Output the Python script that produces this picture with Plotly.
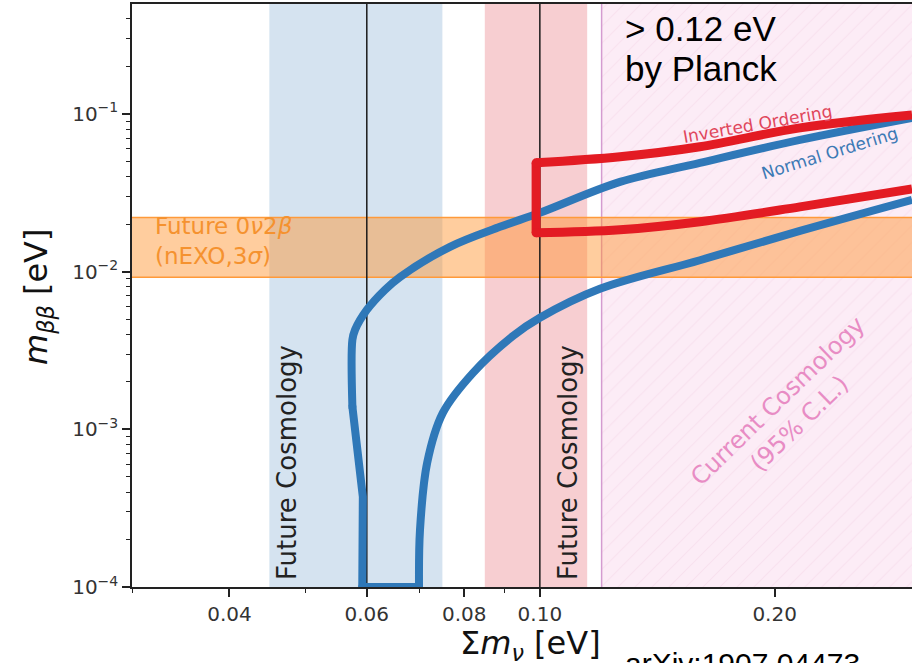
import math
import plotly.graph_objects as go

# ---- data (sum of neutrino masses [eV] vs effective Majorana mass [eV]) ----
# Normal ordering: lower boundary (right to left)
no_lower_x = [0.3000, 0.2155, 0.1604, 0.1194, 0.1000, 0.0924, 0.0821, 0.0751, 0.0717, 0.0702, 0.0700]
no_lower_y = [0.0285, 0.01811, 0.0118, 0.00777, 0.00509, 0.00391, 0.00228, 0.00127, 0.000612, 0.000230, 0.0001]
# bottom edge and straight part of the left edge
no_left_x = [0.0700, 0.0592, 0.0593, 0.0575]
no_left_y = [0.0001, 0.0001, 0.000373, 0.00139]
# rest of the left edge bending into the upper boundary
no_upper_x = [0.0575, 0.0575, 0.05795, 0.0600, 0.0633, 0.0662, 0.0767, 0.0889, 0.1000, 0.1267, 0.1604, 0.2155, 0.3000]
no_upper_y = [0.00139, 0.00369, 0.00427, 0.00571, 0.00766, 0.00925, 0.01435, 0.0192, 0.02356, 0.0370, 0.0489, 0.0684, 0.0943]

# Inverted ordering: upper boundary (right to left), left edge, lower boundary
io_upper_x = [0.3000, 0.2155, 0.1604, 0.1267, 0.0989]
io_upper_y = [0.0985, 0.0815, 0.0618, 0.0534, 0.0489]
io_lower_x = [0.0989, 0.1267, 0.1604, 0.2155, 0.3000]
io_lower_y = [0.0176, 0.0184, 0.0207, 0.0257, 0.0334]

# Future cosmology bands (centre +- 0.015 eV), current bound, nEXO band
future_centers = [0.06, 0.10]
future_halfwidth = 0.015
planck_bound = 0.12
nexo_band = [0.0092, 0.022]

x_tickvals = [0.04, 0.06, 0.08, 0.10, 0.20]
x_ticktext = ["0.04", "0.06", "0.08", "0.10", "0.20"]
x_minor = [0.03, 0.05, 0.07, 0.09, 0.3]
y_tickvals = [1e-4, 1e-3, 1e-2, 1e-1]
y_ticktext = ["10<sup>\u22124</sup>", "10<sup>\u22123</sup>", "10<sup>\u22122</sup>", "10<sup>\u22121</sup>"]
y_minor = [m * 10.0 ** e for e in (-4, -3, -2, -1) for m in range(2, 10)]

X_RANGE = (0.03, 0.30)
Y_RANGE = (1e-4, 0.497)
LO, HI = 1e-6, 10.0   # spans reaching past the visible y-range

W, H = 912, 663
ML, MR, MT, MB = 132, 0, 4, 76
PW, PH = W - ML - MR, H - MT - MB


def px(xp):
    return (xp - ML) / PW


def py(yp):
    return (H - MB - yp) / PH


fig = go.Figure()


def add(**kw):
    kw.setdefault("hoverinfo", "skip")
    kw.setdefault("showlegend", False)
    fig.add_trace(go.Scatter(**kw))


band_fill = ["#d5e3f0", "#f7ced1"]
for c, col in zip(future_centers, band_fill):
    a, b = c - future_halfwidth, c + future_halfwidth
    add(x=[a, b, b, a, a], y=[LO, LO, HI, HI, LO], mode="lines",
        fill="toself", fillcolor=col, line=dict(width=0))

# current cosmology exclusion (hatched)
add(x=[planck_bound, 1.0, 1.0, planck_bound, planck_bound], y=[LO, LO, HI, HI, LO],
    mode="lines", fill="toself", fillcolor="#fcecf6",
    fillpattern=dict(shape="/", bgcolor="#fcecf6", fgcolor="#f5d6e8", size=12, solidity=0.1),
    line=dict(width=0))
add(x=[planck_bound, planck_bound], y=[LO, HI], mode="lines", line=dict(color="#d49bd0", width=1.5))

# nEXO sensitivity band
n0, n1 = nexo_band
add(x=[1e-3, 1.0, 1.0, 1e-3, 1e-3], y=[n0, n0, n1, n1, n0], mode="lines",
    fill="toself", fillcolor="rgba(255,145,40,0.45)", line=dict(color="#ff9a3a", width=1.5))

# vertical reference lines
for c in future_centers:
    add(x=[c, c], y=[LO, HI], mode="lines", line=dict(color="#1a1a1a", width=1.5))

# ordering contours
NO_COL, IO_COL = "#2f78b8", "#e31b23"
add(x=no_lower_x, y=no_lower_y, mode="lines", line=dict(color=NO_COL, width=8, shape="spline", smoothing=1))
add(x=no_left_x, y=no_left_y, mode="lines", line=dict(color=NO_COL, width=8))
add(x=no_upper_x, y=no_upper_y, mode="lines", line=dict(color=NO_COL, width=8, shape="spline", smoothing=1))
add(x=[no_left_x[0], no_left_x[1], no_left_x[-1]], y=[no_left_y[0], no_left_y[1], no_left_y[-1]],
    mode="markers", marker=dict(color=NO_COL, size=8, line=dict(width=0)))

add(x=io_upper_x, y=io_upper_y, mode="lines", line=dict(color=IO_COL, width=9, shape="spline", smoothing=1))
add(x=[io_upper_x[-1], io_lower_x[0]], y=[io_upper_y[-1], io_lower_y[0]], mode="lines",
    line=dict(color=IO_COL, width=9))
add(x=io_lower_x, y=io_lower_y, mode="lines", line=dict(color=IO_COL, width=9, shape="spline", smoothing=1))
add(x=[io_upper_x[-1], io_lower_x[0]], y=[io_upper_y[-1], io_lower_y[0]], mode="markers",
    marker=dict(color=IO_COL, size=9, line=dict(width=0)))

TXT = "DejaVu Sans"
ARIAL = "Liberation Sans, Arial"

ann = [
    dict(text="Future Cosmology", x=px(287), y=py(463), textangle=-90,
         font=dict(size=26, color="#222222", family=TXT)),
    dict(text="Future Cosmology", x=px(568), y=py(463), textangle=-90,
         font=dict(size=26, color="#222222", family=TXT)),
    dict(text="Future 0<i>\u03bd</i>2<i>\u03b2</i><br>(nEXO,3<i>\u03c3</i>)", x=px(153), y=py(241),
         xanchor="left", align="left", font=dict(size=23, color="#f5922f", family=TXT)),
    dict(text="Inverted Ordering", x=px(757), y=py(124), textangle=-10,
         font=dict(size=17, color="#e0465c", family=TXT)),
    dict(text="Normal Ordering", x=px(830), y=py(153), textangle=-17,
         font=dict(size=17, color="#3d7ab5", family=TXT)),
    dict(text="Current Cosmology<br>(95% C.L.)", x=px(788), y=py(412), textangle=-44,
         font=dict(size=24, color="#e88cc4", family=TXT)),
    dict(text="> 0.12 eV", x=px(623), y=py(29), xanchor="left",
         font=dict(size=35, color="#000000", family=ARIAL)),
    dict(text="by Planck", x=px(623), y=py(69), xanchor="left",
         font=dict(size=35, color="#000000", family=ARIAL)),
    dict(text="arXiv:1907.04473", x=px(623), y=py(645), xanchor="left", yanchor="top",
         font=dict(size=30, color="#000000", family=ARIAL)),
    dict(text="<i>m</i><sub><i>\u03b2\u03b2</i></sub> [eV]", x=px(38), y=py(297), textangle=-90,
         font=dict(size=32, color="#111111", family=TXT)),
    dict(text="\u03a3<i>m</i><sub><i>\u03bd</i></sub> [eV]", x=px(530), y=py(645),
         font=dict(size=32, color="#111111", family=TXT)),
]
for a in ann:
    a.setdefault("xanchor", "center")
    a.setdefault("yanchor", "middle")
    fig.add_annotation(xref="paper", yref="paper", showarrow=False, **a)

axis_common = dict(type="log", showgrid=False, zeroline=False, showline=True,
                   linecolor="#222222", linewidth=1.5, ticks="outside", ticklen=8,
                   tickwidth=1.5, tickcolor="#222222", automargin=False,
                   tickfont=dict(family=TXT, size=20, color="#333333"))

fig.update_xaxes(range=[math.log10(X_RANGE[0]), math.log10(X_RANGE[1])], mirror=True,
                 tickmode="array", tickvals=x_tickvals, ticktext=x_ticktext,
                 minor=dict(tickmode="array", tickvals=x_minor, ticks="outside", ticklen=4,
                            tickwidth=1.2, tickcolor="#222222", showgrid=False),
                 **axis_common)
fig.update_yaxes(range=[math.log10(Y_RANGE[0]), math.log10(Y_RANGE[1])], mirror=False,
                 tickmode="array", tickvals=y_tickvals, ticktext=y_ticktext,
                 minor=dict(tickmode="array", tickvals=y_minor, ticks="outside", ticklen=4,
                            tickwidth=1.2, tickcolor="#222222", showgrid=False),
                 **axis_common)

fig.update_layout(width=W, height=H, margin=dict(l=ML, r=MR, t=MT, b=MB, autoexpand=False),
                  paper_bgcolor="white", plot_bgcolor="white", showlegend=False,
                  font=dict(family=TXT))

fig.write_html("out.html")
